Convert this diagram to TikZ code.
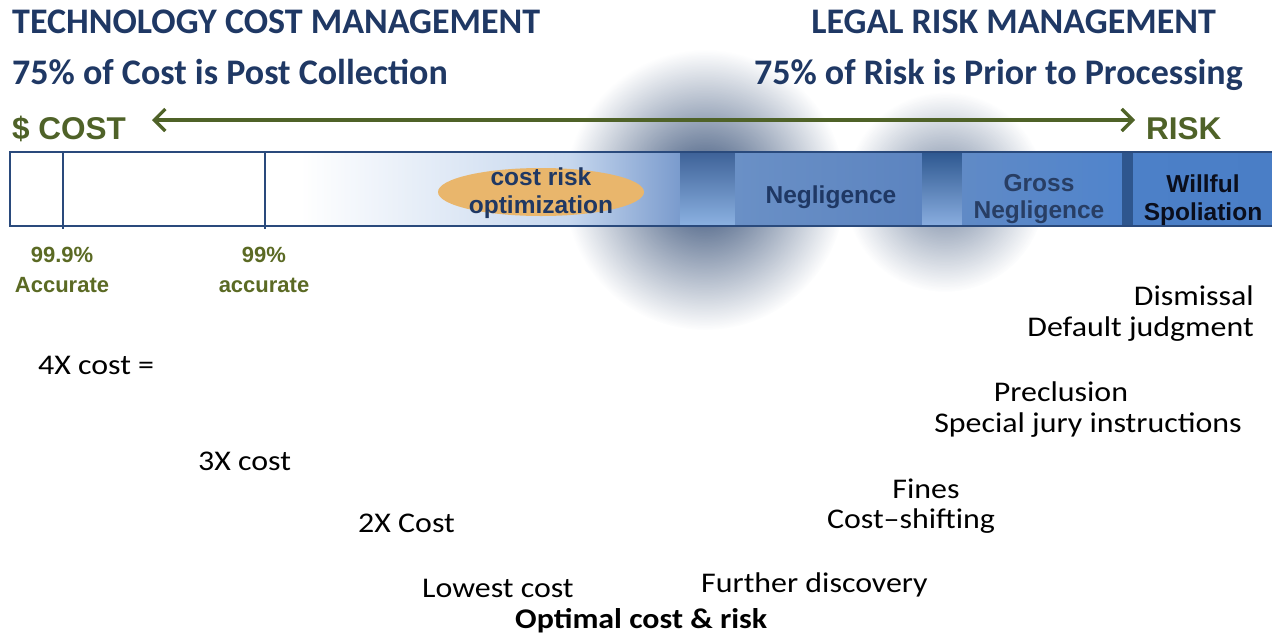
\documentclass[tikz,border=0pt]{standalone}
\usepackage{fontspec}
\setmainfont{Carlito}
\newfontfamily\barfont{Liberation Sans}
\newfontfamily\lowfont{Carlito}[FakeStretch=1.12]
\usetikzlibrary{arrows.meta,fadings,shapes.geometric}
\definecolor{navy}{HTML}{1F3864}
\definecolor{olive}{HTML}{4F6228}
\definecolor{olivetxt}{HTML}{5B6A24}
\definecolor{barline}{HTML}{2A4A7C}
\definecolor{blobcol}{HTML}{1E3A66}
\definecolor{optfill}{HTML}{E9B66C}
\definecolor{lb}{HTML}{C6D7EE}
\definecolor{mb}{HTML}{7A9BCD}
\definecolor{s1top}{HTML}{3E6298}
\definecolor{s1bot}{HTML}{8CB2E2}
\definecolor{ng1}{HTML}{6A90C6}
\definecolor{ng2}{HTML}{92B4E2}
\definecolor{ng3}{HTML}{5C84C0}
\definecolor{s2top}{HTML}{2E5890}
\definecolor{s2bot}{HTML}{8AAEE0}
\definecolor{gr1}{HTML}{608AC6}
\definecolor{gr2}{HTML}{5084CC}
\definecolor{s3}{HTML}{2E568E}
\definecolor{wf1}{HTML}{4C80C8}
\definecolor{wf2}{HTML}{4A7EC6}
\definecolor{grosstxt}{HTML}{283E64}
\definecolor{willtxt}{HTML}{0A0E1C}
\tikzfading[name=blobfade, inner color=transparent!10, outer color=transparent!100]
\tikzset{
  head/.style={font=\fontsize{36}{42}\selectfont\bfseries, text=navy, inner sep=0pt},
  axislbl/.style={font=\barfont\fontsize{31.5}{36}\selectfont\bfseries, text=olive, inner sep=0pt},
  acc/.style={font=\barfont\fontsize{22}{26}\selectfont\bfseries, text=olivetxt, inner sep=0pt},
  barlbl/.style={font=\barfont\fontsize{24.5}{27.5}\selectfont\bfseries, inner sep=0pt, align=center},
  low/.style={font=\lowfont\fontsize{28.5}{33}\selectfont, text=black, inner sep=0pt},
}
\begin{document}
\begin{tikzpicture}[x=1pt,y=-1pt]
\useasboundingbox (0,0) rectangle (1272,633);
% blurred shadows
\fill[blobcol, path fading=blobfade] (705,190) circle[radius=140pt];
\fill[blobcol, path fading=blobfade, fill opacity=0.7] (945,192) circle[radius=100pt];
% bar
\fill[white] (10,152) rectangle (300,226);
\shade[left color=white, right color=lb] (300,152) rectangle (570,226);
\shade[left color=lb, right color=mb] (570,152) rectangle (680,226);
\shade[top color=s1top, bottom color=s1bot] (680,152) rectangle (735,226);
\shade[left color=ng1, middle color=ng2, right color=ng3] (735,152) rectangle (922,226);
\shade[top color=s2top, bottom color=s2bot] (922,152) rectangle (962,226);
\shade[left color=gr1, right color=gr2] (962,152) rectangle (1122,226);
\fill[s3] (1122,152) rectangle (1133,226);
\shade[left color=wf1, right color=wf2] (1133,152) rectangle (1272,226);
\draw[barline, line width=1.8pt] (1272,152) -- (10,152) -- (10,226) -- (1272,226);
\draw[barline, line width=1.2pt] (63,152) -- (63,229) (265,152) -- (265,229);
% optimization ellipse
\node[ellipse, fill=optfill, minimum width=206pt, minimum height=48pt, inner sep=0pt] (opt) at (541,192) {};
\node[barlbl, text=navy] (optlbl) at (541,193) {cost risk\\optimization};
\node[barlbl, text=navy] (negl) at (831,197) {Negligence};
\node[barlbl, text=grosstxt] (gross) at (1039,199) {Gross\\Negligence};
\node[barlbl, text=willtxt] (willful) at (1203,200) {Willful\\Spoliation};
% headings
\node[head, anchor=base west] (tcm) at (12,33) {TECHNOLOGY COST MANAGEMENT};
\node[head, anchor=base west] (postc) at (12,84) {75\% of Cost is Post Collection};
\node[head, anchor=base east] (lrm) at (1216,33) {LEGAL RISK MANAGEMENT};
\node[head, anchor=base east] (prior) at (1243,84) {75\% of Risk is Prior to Processing};
% axis
\node[axislbl, anchor=base west] (cost) at (12,139) {\$ COST};
\node[axislbl, anchor=base west] (risk) at (1146,139) {RISK};
\coordinate (al) at (152,120);
\coordinate (ar) at (1135,120);
\draw[olive, line width=3.3pt, {Straight Barb[length=11pt,width=22pt]}-{Straight Barb[length=11pt,width=22pt]}] (al) -- (ar);
% accuracy labels
\node[acc, anchor=base] (a1) at (62,262) {99.9\%};
\node[acc, anchor=base] (a1b) at (62,292) {Accurate};
\node[acc, anchor=base] (a2) at (264,262) {99\%};
\node[acc, anchor=base] (a2b) at (264,292) {accurate};
% lower texts
\node[low, anchor=base west] (c4) at (38,374) {4X cost =};
\node[low, anchor=base west] (c3) at (198,470) {3X cost};
\node[low, anchor=base west] (c2) at (358,532) {2X Cost};
\node[low, anchor=base west] (c1) at (422,597) {Lowest cost};
\node[low, anchor=base west, font=\lowfont\fontsize{28.5}{33}\selectfont\bfseries] (optimal) at (515,628) {Optimal cost \& risk};
\node[low, anchor=base west] (further) at (701,592) {Further discovery};
\node[low, anchor=base] (fines) at (926,498) {Fines};
\node[low, anchor=base] (shift) at (911,528) {Cost{\char"2013}shifting};
\node[low, anchor=base] (precl) at (1061,401) {Preclusion};
\node[low, anchor=base] (jury) at (1088,432) {Special jury instructions};
\node[low, anchor=base east] (dism) at (1254,305) {Dismissal};
\node[low, anchor=base east] (deflt) at (1254,336) {Default judgment};
\end{tikzpicture}
\end{document}
